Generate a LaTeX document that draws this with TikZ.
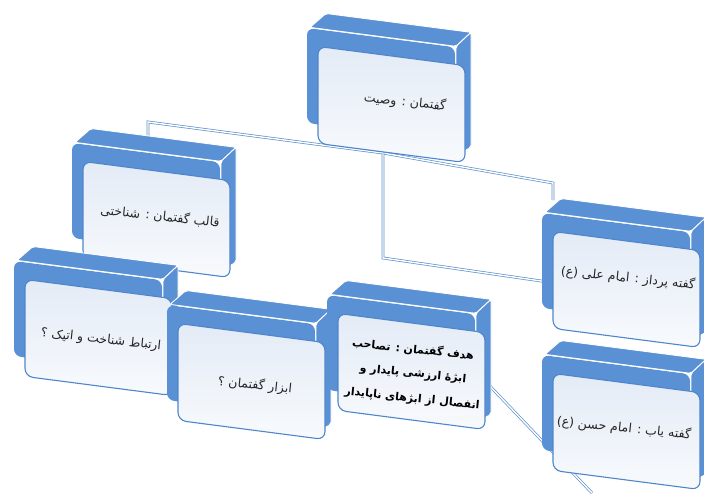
\documentclass[tikz,border=0pt]{standalone}
\usepackage{fontspec}
\newfontfamily\fa[Script=Arabic]{DejaVu Sans}
\TeXXeTstate=1
\definecolor{boxblue}{HTML}{5A90D4}
\definecolor{cardline}{HTML}{4E86CC}
\definecolor{cardtop}{HTML}{E3EBF6}
\definecolor{cardbot}{HTML}{F8FAFD}
\definecolor{pipe}{HTML}{5F90CC}
\tikzset{
  face/.style={fill=boxblue, draw=white, line width=0.9pt, line join=round},
  pipeline/.style={draw=pipe, line width=0.7pt, double=white, double distance=1.4pt},
  fatext/.style={font=\fa\fontsize{12.5}{16}\selectfont, text=black!85, rotate=-6, align=center, inner sep=1pt},
  fabold/.style={fatext, font=\fa\bfseries\fontsize{11}{14}\selectfont, text=black},
}
\newcommand\drawcard[3]{%
 \begin{scope}[shift={(#2,#3)}, yslant=-0.13]
  \fill[boxblue, rounded corners=7pt] (0,0) rectangle (148,95);
  \path[face, rounded corners=2pt] (3,-1) -- (19,-17) -- (164,-17) -- (149,-1) -- cycle;
  \path[face, rounded corners=2pt] (149,-1) -- (164,-17) -- (164,98) -- (149,108) -- cycle;
  \shade[top color=cardtop, bottom color=cardbot, rounded corners=8pt] (11,17) rectangle (158,114);
  \draw[cardline, line width=1.1pt, rounded corners=8pt] (11,17) rectangle (158,114);
  \coordinate (#1) at (84,65);
 \end{scope}}
\begin{document}
\begin{tikzpicture}[x=1pt,y=-1pt]
\useasboundingbox (0,0) rectangle (704,493);
\clip (0,0) rectangle (704,493);
% connector points
\coordinate (pB) at (148,140);
\coordinate (kB) at (148,122);
\coordinate (jA) at (383,153);
\coordinate (kF) at (553,183);
\coordinate (pF) at (553,200);
\coordinate (kL) at (383,258);
\coordinate (pF2) at (548,282);
\coordinate (pE) at (486,382);
\coordinate (pEnd) at (592,493);
% connectors
\draw[pipeline] (pB) -- (kB) -- (jA) -- (kF) -- (pF);
\draw[pipeline] (jA) -- (kL) -- (pF2);
\draw[pipeline] (pE) -- (pEnd);
% boxes
\drawcard{cB}{72}{143}
\drawcard{cC}{14}{261}
\drawcard{cD}{167}{305}
\drawcard{cE}{327}{295}
\drawcard{cA}{307}{28}
\drawcard{cF}{542}{213}
\drawcard{cG}{542}{355}
% texts
\node[fatext] (tA) at (405,102) {\beginR گفتمان : وصیت\endR};
\node[fatext] (tB) at (160,216) {\beginR قالب گفتمان : شناختی\endR};
\node[fatext] (tC) at (101,340) {\beginR ارتباط شناخت و اتیک ؟\endR};
\node[fatext] (tD) at (255,385) {\beginR ابزار گفتمان ؟\endR};
\node[fabold] (tE1) at (413,349) {\beginR هدف گفتمان : تصاحب\endR};
\node[fabold] (tE2) at (413,374) {\beginR ابژهٔ ارزشی پایدار و\endR};
\node[fabold] (tE3) at (412,399) {\beginR انفصال از ابژهای ناپایدار\endR};
\node[fatext] (tF) at (628,278) {\beginR گفته پرداز : امام علی (ع)\endR};
\node[fatext] (tG) at (624,428) {\beginR گفته یاب : امام حسن (ع)\endR};
\end{tikzpicture}
\end{document}
